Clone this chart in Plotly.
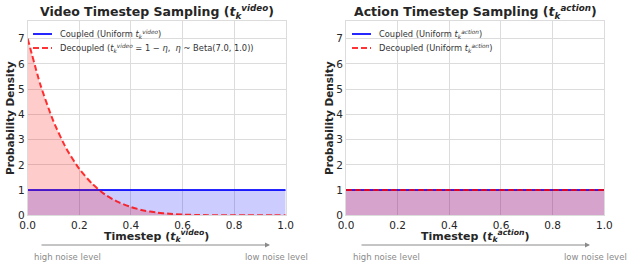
import plotly.graph_objects as go

# ---- data ----
timesteps = [0.00, 0.05, 0.10, 0.15, 0.20, 0.25, 0.30, 0.35, 0.40, 0.45, 0.50,
             0.55, 0.60, 0.65, 0.70, 0.75, 0.80, 0.85, 0.90, 0.95, 1.00]
video_coupled = [1.0] * 21
video_decoupled = [7.00, 5.15, 3.72, 2.64, 1.84, 1.25, 0.82, 0.53, 0.33, 0.19, 0.11,
                   0.06, 0.03, 0.013, 0.005, 0.002, 0.0, 0.0, 0.0, 0.0, 0.0]
action_coupled = [1.0] * 21
action_decoupled = [1.0] * 21

x_ticks = [0.0, 0.2, 0.4, 0.6, 0.8, 1.0]
x_tick_labels = ["0.0", "0.2", "0.4", "0.6", "0.8", "1.0"]
y_ticks = [0, 1, 2, 3, 4, 5, 6, 7]

W, H = 635, 266
FONT = "DejaVu Sans"
BLUE = "rgba(0,0,255,0.85)"
RED = "rgba(255,0,0,0.8)"
BLUE_FILL = "rgba(0,0,255,0.2)"
RED_FILL = "rgba(255,0,0,0.2)"
GRID = "#dcdcdc"
TXT = "#262626"
DASH = "6px,3px"

TV = "<i>t</i><sub><i>k</i></sub><sup><i>video</i></sup>"
TA = "<i>t</i><sub><i>k</i></sub><sup><i>action</i></sup>"

panels = [
    dict(xa="x", ya="y", coupled=video_coupled, decoupled=video_decoupled, spline=True,
         names=[f"Coupled (Uniform {TV})",
                f"Decoupled ({TV} = 1 − <i>η</i>,  <i>η</i> ~ Beta(7.0, 1.0))"]),
    dict(xa="x2", ya="y2", coupled=action_coupled, decoupled=action_decoupled, spline=False,
         names=[f"Coupled (Uniform {TA})", f"Decoupled (Uniform {TA})"]),
]

fig = go.Figure()
for p in panels:
    fig.add_trace(go.Scatter(x=timesteps, y=p["coupled"], mode="lines",
                             line=dict(color=BLUE, width=2), fill="tozeroy", fillcolor=BLUE_FILL,
                             name=p["names"][0], xaxis=p["xa"], yaxis=p["ya"], showlegend=False))
    line = dict(color=RED, width=2, dash=DASH)
    if p["spline"]:
        line.update(shape="spline", smoothing=0.6)
    fig.add_trace(go.Scatter(x=timesteps, y=p["decoupled"], mode="lines", line=line,
                             fill="tozeroy", fillcolor=RED_FILL,
                             name=p["names"][1], xaxis=p["xa"], yaxis=p["ya"], showlegend=False))

ydom = [(H - 215.3) / H, (H - 21) / H]
xdom1 = [27.7 / W, 285.7 / W]
xdom2 = [346 / W, 604.3 / W]

axis_common = dict(showgrid=True, gridcolor=GRID, gridwidth=1, showline=True, linecolor=GRID,
                   linewidth=1, mirror=True, zeroline=False, ticks="", automargin=False,
                   tickfont=dict(family=FONT, size=10.5, color=TXT))

fig.update_layout(
    width=W, height=H, autosize=False,
    margin=dict(l=0, r=0, t=0, b=0, pad=0, autoexpand=False),
    paper_bgcolor="white", plot_bgcolor="white",
    font=dict(family=FONT, color=TXT),
    xaxis=dict(domain=xdom1, range=[0, 1], tickvals=x_ticks, ticktext=x_tick_labels,
               anchor="y", **axis_common),
    yaxis=dict(domain=ydom, range=[0, 7.7], tickvals=y_ticks, anchor="x", **axis_common),
    xaxis2=dict(domain=xdom2, range=[0, 1], tickvals=x_ticks, ticktext=x_tick_labels,
                anchor="y2", **axis_common),
    yaxis2=dict(domain=ydom, range=[0, 7.7], tickvals=y_ticks, anchor="x2", **axis_common),
    showlegend=False,
)

ann = []
shapes = []
def text(x, y, s, size, xanchor="center", color=TXT, angle=0):
    ann.append(dict(x=x / W, y=(H - y) / H, xref="paper", yref="paper", text=s, showarrow=False,
                    xanchor=xanchor, yanchor="middle", textangle=angle,
                    font=dict(family=FONT, size=size, color=color)))

def legend_line(x0, x1, y, color, dash):
    shapes.append(dict(type="line", xref="paper", yref="paper", x0=x0 / W, x1=x1 / W,
                       y0=(H - y) / H, y1=(H - y) / H, line=dict(color=color, width=2, dash=dash)))

layout_specs = [
    (156.7, f"<b>Video Timestep Sampling ({TV})</b>", f"<b>Timestep ({TV})</b>", 10, 40, 270, 32, 310, 33),
    (475, f"<b>Action Timestep Sampling ({TA})</b>", f"<b>Timestep ({TA})</b>", 329, 360, 590, 351, 629, 352),
]
for p, (cx, tt, xt, lx, ax_l, ax_r, hx, lowx, legx) in zip(panels, layout_specs):
    text(cx, 12, tt, 12.5)
    text(lx, 118, "<b>Probability Density</b>", 10.5, angle=-90)
    text(cx, 236, xt, 11)
    text(hx, 257, "high noise level", 8.5, xanchor="left", color="#8a8a8a")
    text(lowx, 257, "low noise level", 8.5, xanchor="right", color="#8a8a8a")
    ann.append(dict(x=ax_r / W, y=(H - 245) / H, xref="paper", yref="paper",
                    ax=-(ax_r - ax_l), ay=0, axref="pixel", ayref="pixel", text="",
                    showarrow=True, arrowhead=2, arrowsize=1, arrowwidth=1, arrowcolor="#8a8a8a"))
    # legend (drawn manually to match the compact reference legend)
    legend_line(legx, legx + 19, 34, BLUE, "solid")
    legend_line(legx, legx + 19, 48, RED, DASH)
    text(legx + 25, 34, p["names"][0], 8.3, xanchor="left", color="#333333")
    text(legx + 25, 48, p["names"][1], 8.3, xanchor="left", color="#333333")

fig.update_layout(annotations=ann, shapes=shapes)
fig.write_html("out.html", config={"displayModeBar": False},
               post_script="document.body.style.margin='0';document.body.style.overflow='hidden';")
